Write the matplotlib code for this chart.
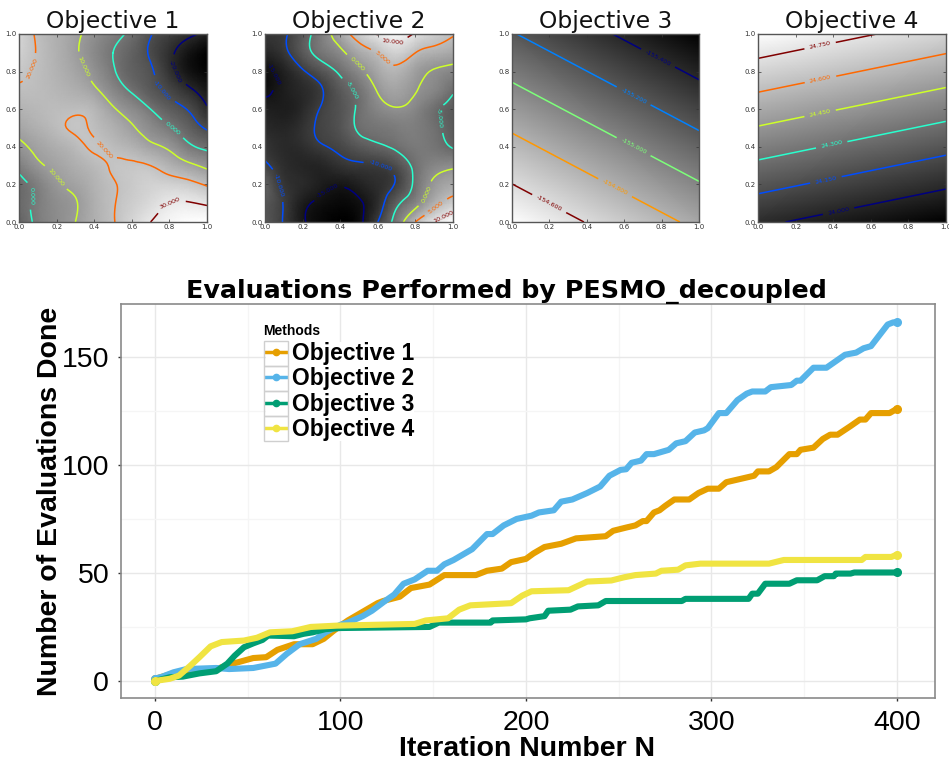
import numpy as np
import matplotlib
matplotlib.use("Agg")
import matplotlib.pyplot as plt
import matplotlib.tri as mtri
from matplotlib.patches import Rectangle
from matplotlib.lines import Line2D

plt.rcParams['axes.unicode_minus'] = False

W, H = 949, 761

# --- contour panels: values read on a regular grid, rows run y=0 -> y=1
grid_axis = [0.0, 0.1, 0.2, 0.3, 0.4, 0.5, 0.6, 0.7, 0.8, 0.9, 1.0]
obj1_field = [
    [-5, 1.8, 6, 10, 15, 19.5, 25, 30, 33.5, 35.5, 36],
    [-3, 2, 6.5, 9.5, 15, 19.5, 23, 26.5, 30, 30.5, 29],
    [-2.5, 3, 9, 12, 16, 19.5, 22, 24, 24, 22.5, 19],
    [2.5, 8.5, 12, 15, 18, 20.5, 21, 20, 16, 12, 8],
    [8, 12, 15, 18, 20.5, 18.5, 16, 12, 8.5, 2, -2],
    [12.5, 15.5, 18.5, 20.7, 19, 15.5, 11, 6, 1, -5, -11],
    [16, 17.5, 18.5, 18.8, 17, 11, 6, 0, -6, -10.5, -19],
    [19, 18.5, 17, 15, 11.5, 5, -1, -7, -12, -18, -24],
    [21.5, 19, 16, 12.5, 7.5, 1, -5, -9, -17, -25, -29],
    [24, 19.5, 15.5, 11, 5.5, 0, -5, -11, -18, -25, -30],
    [25, 19, 15.5, 11.5, 7, 2.5, -2, -9.5, -14, -18, -22],
]
obj2_field = [
    [-7, -10.3, -14.5, -16.5, -17.5, -16, -10, -3, 5, 10, 13],
    [-7, -10.2, -14, -15.7, -16.5, -15.5, -12, -6, -1.5, 3.5, 7],
    [-6, -11, -12.5, -14, -14.7, -13.5, -12, -9.5, -4, 0.8, 2.5],
    [-9.3, -12, -13, -13, -11.5, -10.7, -10.2, -8, -4, -1.5, -0.7],
    [-11, -12.5, -12, -10.4, -9, -7, -5.7, -4.3, -3, -3.5, -5.3],
    [-12.5, -13, -11.5, -9.3, -7.5, -4.5, -3.5, -2.7, -2.5, -4, -6.5],
    [-13.5, -14, -12.5, -9.7, -7.5, -4.3, -1.5, -0.3, -1.5, -4.2, -6.5],
    [-15.8, -14, -12.5, -10.3, -6.8, -3.7, 0.3, 2, 0.2, -1.5, -4.5],
    [-15.7, -13.5, -10.5, -7.5, -4.3, -1, 2.5, 4, 1.5, -0.3, -1.5],
    [-13, -11, -7, -3.5, -1, 2.7, 5.3, 7.5, 5, 3.5, 2.5],
    [-11, -10.5, -7, -2.5, 2.5, 7, 10.3, 12, 9.5, 7, 5.3],
]
corner_axis = [0.0, 1.0]
obj3_field = [[-154.45, -154.84], [-155.19, -155.58]]
obj4_field = [[24.025, 23.854], [24.858, 24.687]]

obj1_levels = [-20, -10, 0, 10, 20, 30]
obj2_levels = [-15, -10, -5, 0, 5, 10]
obj3_levels = [-155.4, -155.2, -155.0, -154.8, -154.6]
obj4_levels = [24.0, 24.15, 24.3, 24.45, 24.6, 24.75]

panel_titles = ["Objective 1", "Objective 2", "Objective 3", "Objective 4"]
panel_ticks = [0.0, 0.2, 0.4, 0.6, 0.8, 1.0]

obj1_labels = [(0.85, 0.81), (0.76, 0.70), (0.82, 0.50), (0.33, 0.82), (0.06, 0.82), (0.46, 0.39),
               (0.80, 0.11), (0.2, 0.24), (0.08, 0.14)]
obj2_labels = [(0.07, 0.80), (0.09, 0.2), (0.62, 0.32), (0.36, 0.14), (0.46, 0.70), (0.92, 0.55),
               (0.5, 0.85), (0.85, 0.15), (0.62, 0.87), (0.9, 0.09), (0.68, 0.97), (0.95, 0.03)]
obj3_labels = [(0.2, 0.1), (0.55, 0.18), (0.65, 0.4), (0.65, 0.67), (0.78, 0.87)]
obj4_labels = [(0.43, 0.05), (0.36, 0.23), (0.39, 0.42), (0.33, 0.58), (0.33, 0.77), (0.33, 0.94)]

# --- main chart
obj1_iter = [0, 8, 17, 33, 42, 53, 60, 66, 75, 85, 91, 96, 100, 104, 112, 120, 123, 132, 138, 148, 156, 173, 179, 187, 192, 200, 204, 210, 219, 227, 243, 247, 254, 259, 263, 265, 269, 272, 275, 280, 288, 293, 298, 304, 308, 313, 323, 325, 331, 335, 342, 346, 348, 355, 360, 364, 368, 375, 380, 383, 386, 396, 400]
obj1_done = [1, 3, 5, 5.5, 8, 10.6, 11, 14.4, 17, 17, 19.5, 23, 25.6, 28, 32, 36, 37, 39, 43, 44.6, 49, 49, 51, 52, 55, 56.5, 59, 62, 63.5, 66, 67, 69.5, 71, 72, 74, 74, 78, 79, 81, 84, 84, 87, 89, 89, 92, 93, 95, 97, 97, 99, 105, 105, 107, 108, 112, 114, 114, 118, 121, 121, 124, 124, 126]
obj2_iter = [0, 4, 10, 17, 33, 40, 53, 65, 71, 78, 87, 92, 100, 104, 112, 117, 124, 129, 134, 140, 147, 152, 156, 161, 167, 171, 179, 182, 188, 195, 203, 207, 215, 219, 225, 233, 240, 245, 251, 254, 257, 262, 265, 269, 273, 277, 281, 286, 291, 296, 298, 304, 308, 314, 319, 322, 329, 332, 343, 346, 348, 355, 362, 367, 372, 378, 382, 386, 395, 398, 400]
obj2_done = [1, 2, 4, 5.5, 6, 5.5, 6, 8, 12.5, 17, 19.5, 22.5, 26, 27, 30, 32.5, 37, 40, 45, 47, 51, 51, 54, 56, 59, 61, 68, 68, 72, 75, 76.5, 78, 79, 83, 84, 87, 90, 95, 97.7, 98, 101, 102, 105, 105, 106, 107, 110, 111, 115, 116, 117, 124, 124, 130, 133, 134, 134, 136, 137, 139, 139, 145, 145, 148, 151, 152, 154, 155, 165, 166, 166]
obj3_iter = [0, 8, 15, 24, 33, 39, 43, 48, 53, 58, 61, 75, 80, 85, 92, 100, 148, 153, 181, 182, 200, 202, 210, 212, 224, 228, 239, 243, 284, 286, 320, 322, 325, 329, 342, 346, 357, 361, 366, 367, 375, 377, 400]
obj3_done = [0, 1.7, 2, 3.5, 4.5, 8, 11.7, 15.6, 17.4, 19, 21, 20.7, 21.8, 22.5, 24, 24.5, 25, 27, 27, 28, 28.5, 29, 30, 32.5, 33, 34.5, 35, 37, 37, 38, 38, 40.4, 40.4, 45, 45, 46.6, 46.6, 48.5, 48.5, 49.7, 49.7, 50.2, 50.2]
obj4_iter = [0, 8, 13, 19, 24, 30, 36, 48, 55, 62, 74, 84, 98, 140, 146, 158, 164, 170, 192, 198, 203, 223, 233, 246, 253, 259, 270, 273, 282, 286, 294, 331, 339, 381, 383, 397, 400]
obj4_done = [0, 1, 2.5, 7, 11, 16, 18, 18.7, 20, 22.5, 23, 25, 25.6, 26.4, 28, 29, 33, 35, 36, 39.5, 41.5, 42, 46, 46.5, 48, 49, 49.7, 51, 51.5, 53.5, 54.3, 54.3, 56, 56, 57.4, 57.4, 58.5]
series_names = ["Objective 1", "Objective 2", "Objective 3", "Objective 4"]
series_colors = ["#E69F00", "#56B4E9", "#009E73", "#F0E442"]
main_title = "Evaluations Performed by PESMO_decoupled"
x_label = "Iteration Number N"
y_label = "Number of Evaluations Done"
legend_title = "Methods"
x_ticks = [0, 100, 200, 300, 400]
y_ticks = [0, 50, 100, 150]


def box(l, t, r, b):
    return [l / W, 1 - b / H, (r - l) / W, (b - t) / H]


fig = plt.figure(figsize=(W / 100, H / 100), dpi=100)

panel_boxes = [(19, 34, 207, 222), (265, 34, 453, 222), (512, 34, 699, 222), (758, 34, 946, 222)]
panel_data = [
    (grid_axis, obj1_field, obj1_levels, obj1_labels),
    (grid_axis, obj2_field, obj2_levels, obj2_labels),
    (corner_axis, obj3_field, obj3_levels, obj3_labels),
    (corner_axis, obj4_field, obj4_levels, obj4_labels),
]
for pb, (axis_vals, field, levels, label_pts), title in zip(panel_boxes, panel_data, panel_titles):
    ax = fig.add_axes(box(*pb))
    field = np.array(field, dtype=float)
    if len(axis_vals) > 2:
        X, Y = np.meshgrid(axis_vals, axis_vals)
        tri = mtri.Triangulation(X.ravel(), Y.ravel())
        refiner = mtri.UniformTriRefiner(tri)
        tri_fine, z_fine = refiner.refine_field(field.ravel(), subdiv=3)
        ax.tripcolor(tri_fine, z_fine, shading='gouraud', cmap='gray')
        cs = ax.tricontour(tri_fine, z_fine, levels=levels, cmap='jet', linewidths=1.1)
    else:
        ax.pcolormesh(axis_vals, axis_vals, field, shading='gouraud', cmap='gray')
        cs = ax.contour(axis_vals, axis_vals, field, levels=levels, cmap='jet', linewidths=1.1)
    ax.clabel(cs, fmt='%.3f', fontsize=4.6, manual=label_pts, inline=True)
    ax.set_xlim(0, 1)
    ax.set_ylim(0, 1)
    ax.set_xticks(panel_ticks)
    ax.set_yticks(panel_ticks)
    ax.tick_params(direction='in', length=2, width=0.5, labelsize=5, colors='#333333', pad=1.5,
                   top=True, right=True)
    for s in ax.spines.values():
        s.set_color('#555555')
        s.set_linewidth(1.0)
    ax.set_title(title, fontsize=16.8, pad=4, color='#111111')

# main plot
ax = fig.add_axes(box(121, 304, 935, 698))
ax.set_xlim(-18.3, 420.5)
ax.set_ylim(-7.9, 174.5)
ax.set_axisbelow(True)
ax.set_xticks(x_ticks)
ax.set_yticks(y_ticks)
ax.set_xticks([50, 150, 250, 350], minor=True)
ax.set_yticks([25, 75, 125], minor=True)
ax.grid(True, which='major', color='#e8e8e8', lw=1)
ax.grid(True, which='minor', color='#f5f5f5', lw=1)
ax.tick_params(which='minor', length=0)
ax.tick_params(which='major', length=2.5, width=1, color='#333333', labelsize=20.5, pad=6)
for s in ax.spines.values():
    s.set_color('#8a8a8a')
    s.set_linewidth(1.2)

xs = [obj1_iter, obj2_iter, obj3_iter, obj4_iter]
ys = [obj1_done, obj2_done, obj3_done, obj4_done]
for xv, yv, c in zip(xs, ys, series_colors):
    ax.plot(xv, yv, color=c, lw=4.4, solid_joinstyle='round', solid_capstyle='round')
    ax.plot(xv[-1:], yv[-1:], 'o', color=c, ms=5.5)
    ax.plot(xv[:1], yv[:1], 'o', color=c, ms=5.5)

for lab in ax.get_xticklabels() + ax.get_yticklabels():
    lab.set_fontfamily('Liberation Sans')

fig.text(506 / W, 1 - 298 / H, main_title, ha='center', va='baseline', fontsize=18.3,
         fontweight='bold', family='DejaVu Sans', color='black')
fig.text(527 / W, 1 - 756 / H, x_label, ha='center', va='baseline', fontsize=20.5,
         fontweight='bold', family='Liberation Sans')
fig.text(50 / W, 1 - 501 / H, y_label, ha='center', va='center', rotation=90, fontsize=20.5,
         fontweight='bold', family='Liberation Sans')
fig.text(263 / W, 1 - 335 / H, legend_title, ha='left', va='baseline', fontsize=10,
         fontweight='bold', family='Liberation Sans')

handles = [Line2D([0], [0], color=c, lw=2.5, marker='o', ms=4.5) for c in series_colors]
leg = ax.legend(handles, series_names, loc='upper left',
                bbox_to_anchor=(266 / W, 1 - 342 / H), bbox_transform=fig.transFigure,
                prop={'family': 'Liberation Sans', 'weight': 'bold', 'size': 16.5},
                frameon=True, framealpha=1, edgecolor='none', facecolor='white',
                borderpad=0.0, labelspacing=0.1, handlelength=0.87, handletextpad=0.26, borderaxespad=0)
leg.set_zorder(5)
for i in range(4):
    fig.add_artist(Rectangle((264 / W, 1 - (341 + 25 * (i + 1)) / H), 24 / W, 25 / H,
                             transform=fig.transFigure, fill=False, edgecolor='#cfcfcf', lw=1, zorder=10))

fig.savefig('out.png', dpi=100)
